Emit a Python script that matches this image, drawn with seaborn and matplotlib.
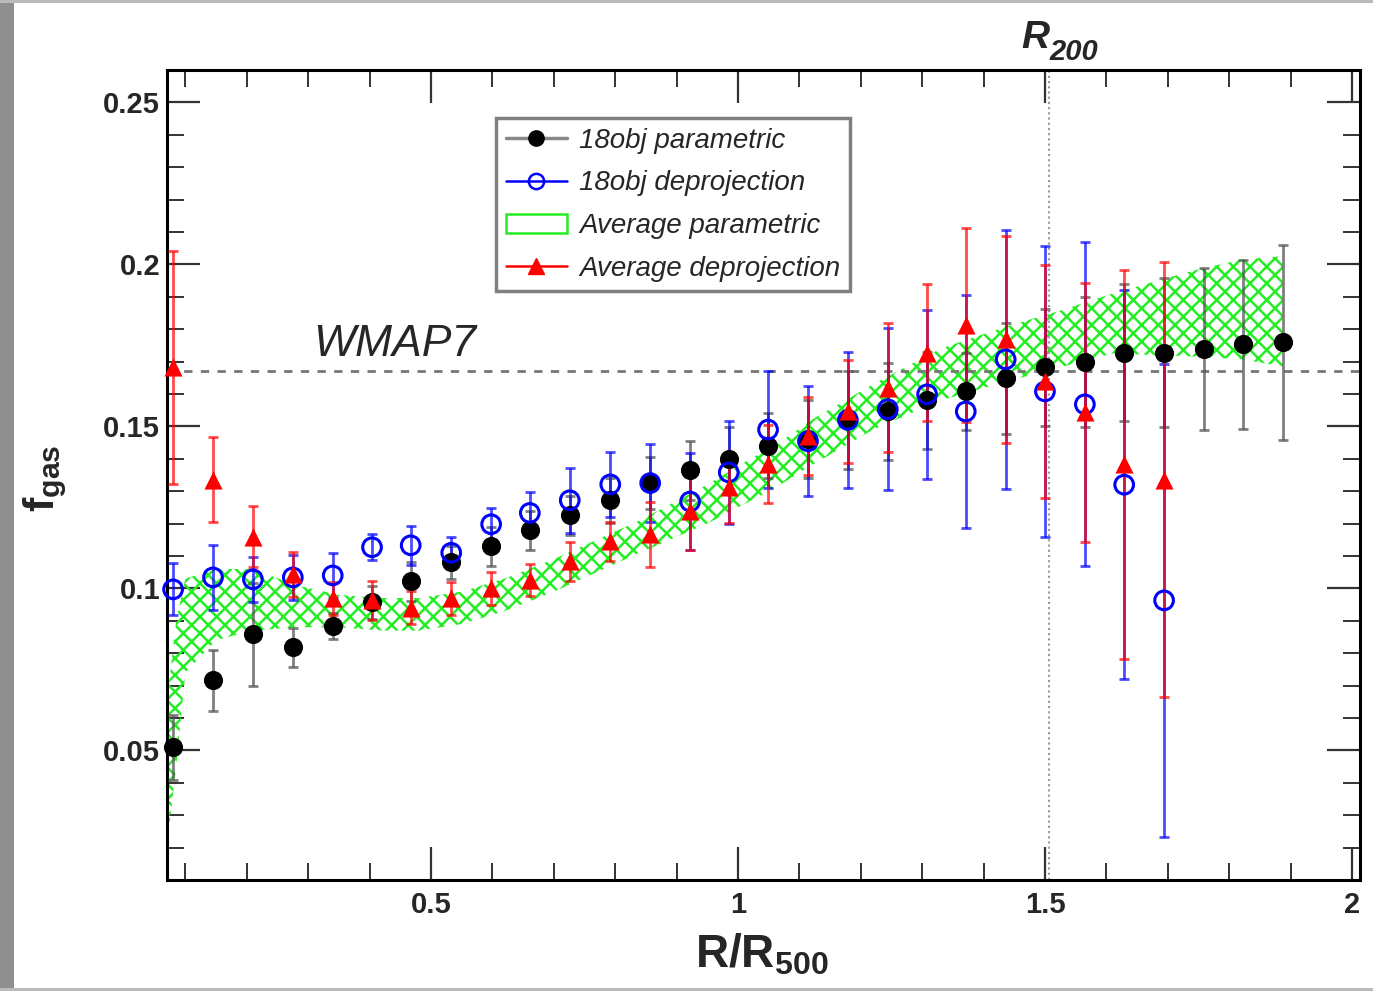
import numpy as np
import pandas as pd
import matplotlib
matplotlib.use("Agg")
import matplotlib.pyplot as plt
import seaborn as sns
from matplotlib.lines import Line2D
from matplotlib.patches import Patch, Rectangle

# --- data (R/R500 vs f_gas) ---
x_bins = [0.080, 0.145, 0.210, 0.275, 0.340, 0.404, 0.467, 0.533, 0.598, 0.661,
          0.726, 0.792, 0.857, 0.922, 0.985, 1.049, 1.114, 1.179, 1.244, 1.308,
          1.371, 1.436, 1.500, 1.565, 1.629, 1.694, 1.759, 1.822, 1.887]

# 18obj parametric (black)
f_param = [0.051, 0.0716, 0.0858, 0.0818, 0.0883, 0.0957, 0.1022, 0.108, 0.113, 0.118,
           0.1225, 0.1272, 0.1324, 0.1364, 0.1398, 0.1441, 0.1462, 0.152, 0.1546, 0.158,
           0.1608, 0.1648, 0.1682, 0.1698, 0.1728, 0.1728, 0.1738, 0.1753, 0.1759]
e_param = [0.010, 0.0095, 0.016, 0.006, 0.004, 0.005, 0.006, 0.005, 0.006, 0.006,
           0.006, 0.007, 0.008, 0.009, 0.010, 0.010, 0.012, 0.015, 0.015, 0.015,
           0.012, 0.017, 0.018, 0.020, 0.021, 0.023, 0.025, 0.026, 0.030]

# 18obj deprojection (blue open circles)
f_deproj = [0.0997, 0.1034, 0.1028, 0.1034, 0.104, 0.1127, 0.1133, 0.111, 0.1198, 0.1233,
            0.1272, 0.1321, 0.1325, 0.1268, 0.1358, 0.149, 0.1454, 0.152, 0.1553, 0.1599,
            0.1546, 0.1707, 0.1608, 0.1568, 0.132, 0.0963]
e_deproj = [0.008, 0.010, 0.007, 0.007, 0.007, 0.004, 0.006, 0.005, 0.005, 0.0065,
            0.010, 0.010, 0.012, 0.015, 0.016, 0.018, 0.017, 0.021, 0.025, 0.026,
            0.036, 0.040, 0.045, 0.050, 0.060, 0.073]

# Average deprojection (red triangles)
f_avg_deproj = [0.1682, 0.1336, 0.116, 0.1043, 0.0969, 0.0963, 0.0941, 0.0969, 0.100, 0.1025,
                0.1083, 0.1145, 0.1167, 0.1238, 0.1312, 0.1383, 0.147, 0.1546, 0.162, 0.1728,
                0.1812, 0.1769, 0.1639, 0.1543, 0.1383, 0.1336]
e_avg_deproj = [0.036, 0.013, 0.0095, 0.007, 0.005, 0.006, 0.005, 0.005, 0.005, 0.005,
                0.006, 0.006, 0.010, 0.012, 0.011, 0.012, 0.012, 0.016, 0.020, 0.021,
                0.030, 0.032, 0.036, 0.040, 0.060, 0.067]

# Average parametric (green hatched band)
x_band = [0.07, 0.085, 0.10, 0.15, 0.21, 0.28, 0.35, 0.42, 0.48, 0.55, 0.62, 0.70, 0.84,
          0.95, 1.02, 1.06, 1.12, 1.22, 1.33, 1.44, 1.53, 1.61, 1.74, 1.82, 1.887]
band_hi = [0.065, 0.090, 0.103, 0.106, 0.106, 0.101, 0.098, 0.097, 0.097, 0.099, 0.103, 0.109,
           0.121, 0.132, 0.140, 0.144, 0.152, 0.163, 0.174, 0.181, 0.186, 0.191, 0.198,
           0.2015, 0.2025]
band_lo = [0.020, 0.045, 0.074, 0.084, 0.087, 0.088, 0.088, 0.087, 0.087, 0.089, 0.093, 0.099,
           0.111, 0.120, 0.127, 0.131, 0.138, 0.149, 0.158, 0.164, 0.1685, 0.1725, 0.1716,
           0.1707, 0.1685]

WMAP7_FGAS = 0.167
R200 = 1.507

# --- style ---
sns.set_style("ticks")
plt.rcParams['font.family'] = ['Liberation Sans', 'DejaVu Sans']
plt.rcParams['mathtext.fontset'] = 'custom'
plt.rcParams['mathtext.rm'] = 'Liberation Sans'
plt.rcParams['mathtext.bf'] = 'Liberation Sans:bold'
plt.rcParams['mathtext.it'] = 'Liberation Sans:italic:bold'
plt.rcParams['hatch.linewidth'] = 1.8

df_param = pd.DataFrame({'x': x_bins, 'f': f_param, 'e': e_param})
n_dep = len(f_deproj)
df_deproj = pd.DataFrame({'x': x_bins[:n_dep], 'f': f_deproj, 'e': e_deproj})
df_avg = pd.DataFrame({'x': x_bins[:n_dep], 'f': f_avg_deproj, 'e': e_avg_deproj})

fig = plt.figure(figsize=(13.73, 9.91), dpi=100)
ax = fig.add_axes([0.1216, 0.112, 0.8689, 0.8174])

# band
GREEN = '#22ee22'
ax.fill_between(x_band, band_lo, band_hi, facecolor='none', edgecolor=GREEN,
                hatch='xx', linewidth=0, zorder=1)

# reference lines
ax.axhline(WMAP7_FGAS, color='#777777', lw=2, ls=(0, (3, 3)), zorder=2)
ax.axvline(R200, color='#999999', lw=1.5, ls=(0, (1, 1.5)), zorder=2)

# error bars
ax.errorbar(df_param['x'], df_param['f'], yerr=df_param['e'], fmt='none',
            ecolor='#555555', elinewidth=2, capsize=3.5, capthick=2, alpha=0.75, zorder=3)
ax.errorbar(df_deproj['x'], df_deproj['f'], yerr=df_deproj['e'], fmt='none',
            ecolor='blue', elinewidth=2, capsize=3.5, capthick=2, alpha=0.7, zorder=4)
ax.errorbar(df_avg['x'], df_avg['f'], yerr=df_avg['e'], fmt='none',
            ecolor='red', elinewidth=2, capsize=3.5, capthick=2, alpha=0.7, zorder=5)

# markers
sns.scatterplot(data=df_param, x='x', y='f', ax=ax, color='black', marker='o',
                s=190, edgecolor='black', linewidth=0, zorder=6, clip_on=False)
sns.scatterplot(data=df_deproj, x='x', y='f', ax=ax, marker='o', s=180,
                facecolor='none', edgecolor='blue', linewidth=2.2, zorder=7, clip_on=False)
sns.scatterplot(data=df_avg, x='x', y='f', ax=ax, color='red', marker='^',
                s=170, edgecolor='red', linewidth=0, zorder=8, clip_on=False)

ax.set_xlim(0.07, 2.013)
ax.set_ylim(0.01, 0.26)
ax.set_xlabel('')
ax.set_ylabel('')

ax.set_xticks([0.5, 1, 1.5, 2])
ax.set_xticklabels(['0.5', '1', '1.5', '2'])
ax.set_xticks(np.arange(0.1, 2.01, 0.1), minor=True)
ax.set_yticks([0.05, 0.1, 0.15, 0.2, 0.25])
ax.set_yticklabels(['0.05', '0.1', '0.15', '0.2', '0.25'])
ax.set_yticks(np.arange(0.02, 0.26, 0.01), minor=True)

for lbl in ax.get_xticklabels() + ax.get_yticklabels():
    lbl.set_fontweight('bold')
    lbl.set_fontsize(21)

ax.tick_params(which='both', direction='in', top=True, right=True, color='#333333')
ax.tick_params(axis='x', which='major', length=24, width=1.6, pad=8)
ax.tick_params(axis='x', which='minor', length=12, width=1.4)
ax.tick_params(axis='y', which='major', length=24, width=1.6, pad=5)
ax.tick_params(axis='y', which='minor', length=12, width=1.4)
for sp in ax.spines.values():
    sp.set_linewidth(2.2)
    sp.set_color('black')

# texts
ax.text(0.308, 0.1716, 'WMAP7', fontsize=32, style='italic', ha='left', va='baseline')
fig.text(762 / 1373, 1 - 955 / 991, r'$\mathbf{R/R_{500}}$', fontsize=33,
         ha='center', va='center')
fig.text(45 / 1373, 1 - 478 / 991, r'$\mathbf{f_{gas}}$', fontsize=31, rotation=90,
         ha='center', va='center')
fig.text(1021 / 1373, 1 - 48 / 991, 'R', fontsize=28, style='italic', weight='bold',
         ha='left', va='baseline')
fig.text(1049 / 1373, 1 - 60 / 991, '200', fontsize=21, style='italic', weight='bold',
         ha='left', va='baseline')

# legend
handles = [
    Line2D([], [], color='#888888', lw=2.5, marker='o', mfc='black', mec='black', ms=11),
    Line2D([], [], color='blue', lw=1.8, marker='o', mfc='none', mec='blue', mew=1.8, ms=11),
    Patch(facecolor='none', edgecolor=GREEN, lw=1.8),
    Line2D([], [], color='red', lw=1.8, marker='^', mfc='red', mec='red', ms=11),
]
labels = ['18obj parametric', '18obj deprojection', 'Average parametric',
          'Average deprojection']
leg = ax.legend(handles, labels, loc='upper left', bbox_to_anchor=(0.2758, 0.9407),
                borderaxespad=0, prop={'style': 'italic', 'size': 20},
                frameon=True, fancybox=False, handlelength=2.2, labelspacing=0.6,
                borderpad=0.35, handletextpad=0.45)
leg.get_frame().set_edgecolor('#808080')
leg.get_frame().set_linewidth(2.5)
leg.get_frame().set_alpha(1)

# page borders as in the scan
fig.patches.append(Rectangle((0, 0), 14 / 1373, 1, transform=fig.transFigure,
                             facecolor='#8f8f8f', edgecolor='none'))
fig.patches.append(Rectangle((0, 1 - 3 / 991), 1, 3 / 991, transform=fig.transFigure,
                             facecolor='#bbbbbb', edgecolor='none'))
fig.patches.append(Rectangle((0, 0), 1, 3 / 991, transform=fig.transFigure,
                             facecolor='#bbbbbb', edgecolor='none'))

fig.savefig('out.png', dpi=100, facecolor='white')
